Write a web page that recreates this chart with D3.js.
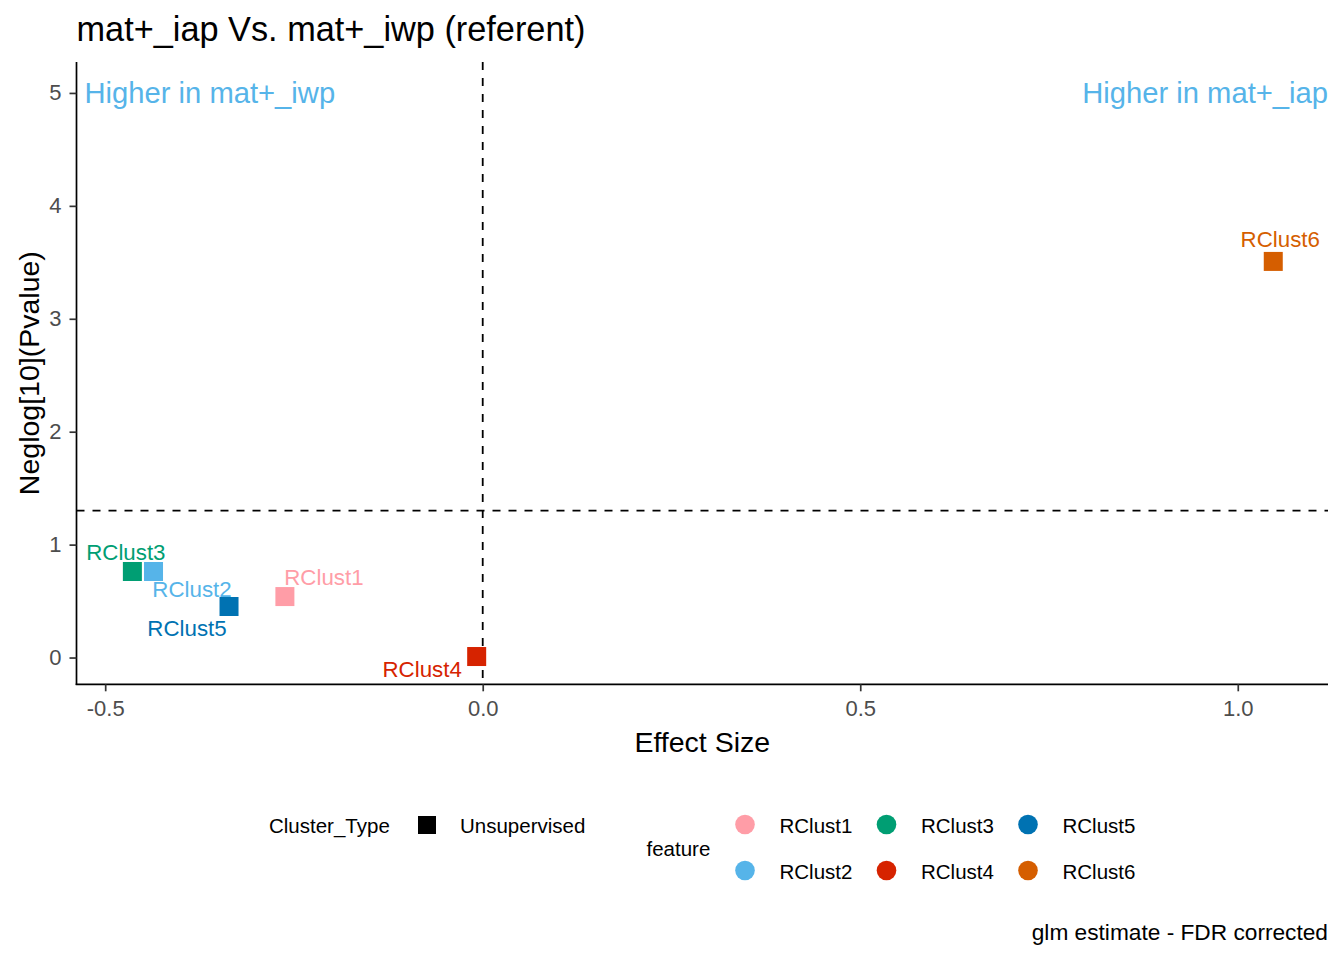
<!DOCTYPE html>
<html>
<head>
<meta charset="utf-8">
<script src="https://cdn.jsdelivr.net/npm/d3@7"></script>
<style>
  body { margin: 0; background: #fff; }
  text { font-family: "Liberation Sans", Arial, sans-serif; }
</style>
</head>
<body>
<div id="chart"></div>
<script>
// data
const features = ["RClust1", "RClust2", "RClust3", "RClust4", "RClust5", "RClust6"];
const effectSize = [-0.262, -0.436, -0.464, -0.008, -0.336, 1.047];
const neglogP = [0.540, 0.762, 0.762, 0.009, 0.452, 3.508];
const clusterType = ["Unsupervised", "Unsupervised", "Unsupervised", "Unsupervised", "Unsupervised", "Unsupervised"];
const featureColors = ["#FF9DA7", "#56B4E9", "#009E73", "#D62300", "#0072B2", "#D55E00"];
const xTicks = [-0.5, 0, 0.5, 1.0];
const yTicks = [0, 1, 2, 3, 4, 5];
const pCutoff = -Math.log10(0.05);

const width = 1344, height = 960;
const panel = { left: 76.5, right: 1328, top: 62, bottom: 684.3 };

// ggrepel placed the labels; offsets in px from the point
const labelOffset = {
  RClust1: [39, -11.5], RClust2: [38.5, 26], RClust3: [-6.5, -11],
  RClust4: [-54.5, 20], RClust5: [-42, 29.5], RClust6: [7, -14]
};

const data = features.map((f, i) => ({
  feature: f, x: effectSize[i], y: neglogP[i], type: clusterType[i], color: featureColors[i]
}));

const svg = d3.select("#chart").append("svg")
  .attr("width", width)
  .attr("height", height);

const x = d3.scaleLinear()
  .domain([-0.538, 1.1195])
  .range([panel.left, panel.right]);

const y = d3.scaleLinear()
  .domain([-0.237, 5.274])
  .range([panel.bottom, panel.top]);

const x0 = panel.left, x1 = panel.right;
const yBottom = panel.bottom, yTop = panel.top;

// axes
const xAxis = svg.append("g")
  .attr("transform", `translate(0,${yBottom})`)
  .call(d3.axisBottom(x).tickValues(xTicks).tickFormat(d => d.toFixed(1)).tickSize(7).tickPadding(9).tickSizeOuter(0));
const yAxis = svg.append("g")
  .attr("transform", `translate(${x0},0)`)
  .call(d3.axisLeft(y).tickValues(yTicks).tickFormat(d => String(d)).tickSize(7).tickPadding(8).tickSizeOuter(0));

[xAxis, yAxis].forEach(g => {
  g.select(".domain").attr("stroke", "#000").attr("stroke-width", 1.7);
  g.selectAll(".tick line").attr("stroke", "#333").attr("stroke-width", 1.7);
  g.selectAll(".tick text").attr("fill", "#4D4D4D").style("font-size", "22px");
});
xAxis.select(".domain").attr("d", `M${x0 - 0.8},0H${x1}`);
yAxis.select(".domain").attr("d", `M0,${yTop}V${yBottom + 0.8}`);

// reference lines
svg.append("line")
  .attr("x1", x(0)).attr("x2", x(0))
  .attr("y1", yTop).attr("y2", yBottom)
  .attr("stroke", "#000").attr("stroke-width", 1.8).attr("stroke-dasharray", "8,8");
svg.append("line")
  .attr("x1", x0).attr("x2", x1)
  .attr("y1", y(pCutoff)).attr("y2", y(pCutoff))
  .attr("stroke", "#000").attr("stroke-width", 1.8).attr("stroke-dasharray", "8,8");

// side annotations
svg.append("text")
  .attr("x", x0 + 8).attr("y", y(5))
  .attr("dy", "0.35em")
  .attr("fill", "#56B4E9")
  .style("font-size", "29.2px")
  .text("Higher in mat+_iwp");
svg.append("text")
  .attr("x", x1).attr("y", y(5))
  .attr("dy", "0.35em")
  .attr("text-anchor", "end")
  .attr("fill", "#56B4E9")
  .style("font-size", "29.2px")
  .text("Higher in mat+_iap");

// points
const sq = 19;
svg.selectAll(".pt")
  .data(data)
  .enter()
  .append("rect")
  .attr("class", "pt")
  .attr("x", d => x(d.x) - sq / 2)
  .attr("y", d => y(d.y) - sq / 2)
  .attr("width", sq)
  .attr("height", sq)
  .attr("fill", d => d.color);

svg.selectAll(".lbl")
  .data(data)
  .enter()
  .append("text")
  .attr("class", "lbl")
  .attr("x", d => x(d.x) + labelOffset[d.feature][0])
  .attr("y", d => y(d.y) + labelOffset[d.feature][1])
  .attr("text-anchor", "middle")
  .attr("fill", d => d.color)
  .style("font-size", "22.3px")
  .text(d => d.feature);

// titles
svg.append("text")
  .attr("x", x0).attr("y", 41)
  .style("font-size", "34.3px")
  .text("mat+_iap Vs. mat+_iwp (referent)");
svg.append("text")
  .attr("x", (x0 + x1) / 2).attr("y", 752)
  .attr("text-anchor", "middle")
  .style("font-size", "28.5px")
  .text("Effect Size");
svg.append("text")
  .attr("transform", `translate(39,${(yTop + yBottom) / 2}) rotate(-90)`)
  .attr("text-anchor", "middle")
  .style("font-size", "28.5px")
  .text("Neglog[10](Pvalue)");
svg.append("text")
  .attr("x", x1).attr("y", 940)
  .attr("text-anchor", "end")
  .style("font-size", "22.7px")
  .text("glm estimate - FDR corrected");

// legends
const legFont = "20.5px";
const lg = svg.append("g");
lg.append("text").attr("x", 269).attr("y", 833).style("font-size", legFont).text("Cluster_Type");
const types = Array.from(new Set(clusterType));
types.forEach((t, i) => {
  lg.append("rect").attr("x", 418).attr("y", 816 + i * 46).attr("width", 18).attr("height", 18).attr("fill", "#000");
  lg.append("text").attr("x", 460).attr("y", 832.5 + i * 46).style("font-size", legFont).text(t);
});
lg.append("text").attr("x", 646.5).attr("y", 855.5).style("font-size", legFont).text("feature");
const colStep = 141.5, rowStep = 46;
features.forEach((f, i) => {
  const col = Math.floor(i / 2), row = i % 2;
  const cx = 745 + col * colStep, cy = 824.5 + row * rowStep;
  lg.append("circle").attr("cx", cx).attr("cy", cy).attr("r", 9.8).attr("fill", featureColors[i]);
  lg.append("text").attr("x", cx + 34.5).attr("y", cy + 8).style("font-size", legFont).text(f);
});
</script>
</body>
</html>
